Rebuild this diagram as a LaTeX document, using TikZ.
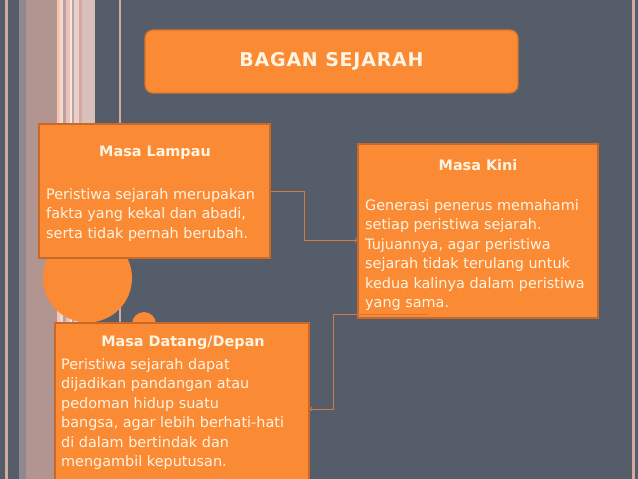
\documentclass[tikz,border=0pt]{standalone}
\usepackage{fontspec}
\setmainfont{DejaVu Sans}
\definecolor{latar}{HTML}{565D6A}
\definecolor{oranye}{HTML}{FB8A35}
\definecolor{tepi}{HTML}{C8692A}
\definecolor{krem}{HTML}{FFF4E2}
\definecolor{garis}{HTML}{D07A45}
\definecolor{stPink}{HTML}{D4A9A0}
\definecolor{stAbu}{HTML}{8F8791}
\definecolor{stRose}{HTML}{B29590}
\definecolor{stPeach}{HTML}{F8C4B0}
\definecolor{stTerang}{HTML}{F3D8CC}
\definecolor{stMauve}{HTML}{B9A3A5}
\definecolor{stMuda}{HTML}{ECC2B6}
\definecolor{stPutih}{HTML}{F4E6E3}
\definecolor{stLembut}{HTML}{E9CFCB}
\definecolor{stPudar}{HTML}{D9C0BB}

\begin{document}
\begin{tikzpicture}[x=1pt, y=-1pt,
    kotak/.style={draw=tepi, line width=1.2pt, fill=oranye, shape=rectangle},
    judul/.style={text=krem, font=\bfseries\fontsize{14.4}{19.5}\selectfont},
    isi/.style={text=krem, align=left, inner sep=0pt, anchor=west,
      font=\fontsize{14.4}{19.5}\selectfont},
    panah/.style={garis, line width=0.9pt, -to}]

  \clip (0,0) rectangle (638,479);
  \fill[latar] (0,0) rectangle (638,479);

  % Garis-garis kiri
  \foreach \xa/\xb/\warna in {5/8/stPink, 19/26/stAbu, 26/57/stRose, 57/60/stPeach,
      60/63/stTerang, 63/66/stMauve, 66/70/stMuda, 70/72/stPutih, 72/74/stMauve,
      74/79/stLembut, 79/82/stPink, 82/95/stPudar, 119/121/stPink, 632/634.5/stPink}
    \fill[\warna] (\xa,0) rectangle (\xb,479);

  % Lingkaran
  \fill[oranye] (87.5,278) circle (44.5);
  \fill[oranye] (144,324) circle (12);

  % Judul
  \node[kotak, draw=tepi!70!oranye, rounded corners=8pt, minimum width=373pt,
    minimum height=63pt, text=krem,
    font=\bfseries\fontsize{19}{22}\selectfont\addfontfeature{LetterSpace=4}]
    (bagan) at (331.5,61.5) {BAGAN SEJARAH};

  % Masa Lampau
  \node[kotak, minimum width=231pt, minimum height=134pt] (lampau) at (154.5,191) {};
  \node[judul] (lampauJudul) at (155,153) {Masa Lampau};
  \node[isi] (lampauIsi) at (46,215) {Peristiwa sejarah merupakan\\
    fakta yang kekal dan abadi,\\serta tidak pernah berubah.};

  % Masa Kini
  \node[kotak, minimum width=240pt, minimum height=174pt] (kini) at (478,231) {};
  \node[judul] (kiniJudul) at (478,165) {Masa Kini};
  \node[isi] (kiniIsi) at (365,255) {Generasi penerus memahami\\
    setiap peristiwa sejarah.\\Tujuannya, agar peristiwa\\
    sejarah tidak terulang untuk\\kedua kalinya dalam peristiwa\\yang sama.};

  % Masa Datang/Depan
  \node[kotak, minimum width=254pt, minimum height=172pt] (datang) at (182,409) {};
  \node[judul] (datangJudul) at (183,343) {Masa Datang/Depan};
  \node[isi] (datangIsi) at (61,414) {Peristiwa sejarah dapat\\
    dijadikan pandangan atau\\pedoman hidup suatu\\
    bangsa, agar lebih berhati-hati\\di dalam bertindak dan\\mengambil keputusan.};

  % Panah
  \coordinate (kiniUjung) at (428,314);
  \draw[panah] (lampau.east) -- ++(34,0) |- ([yshift=-9pt]kini.west);
  \draw[panah] (kiniUjung) -- ++(-95,0) |- (datang.east);

\end{tikzpicture}
\end{document}
